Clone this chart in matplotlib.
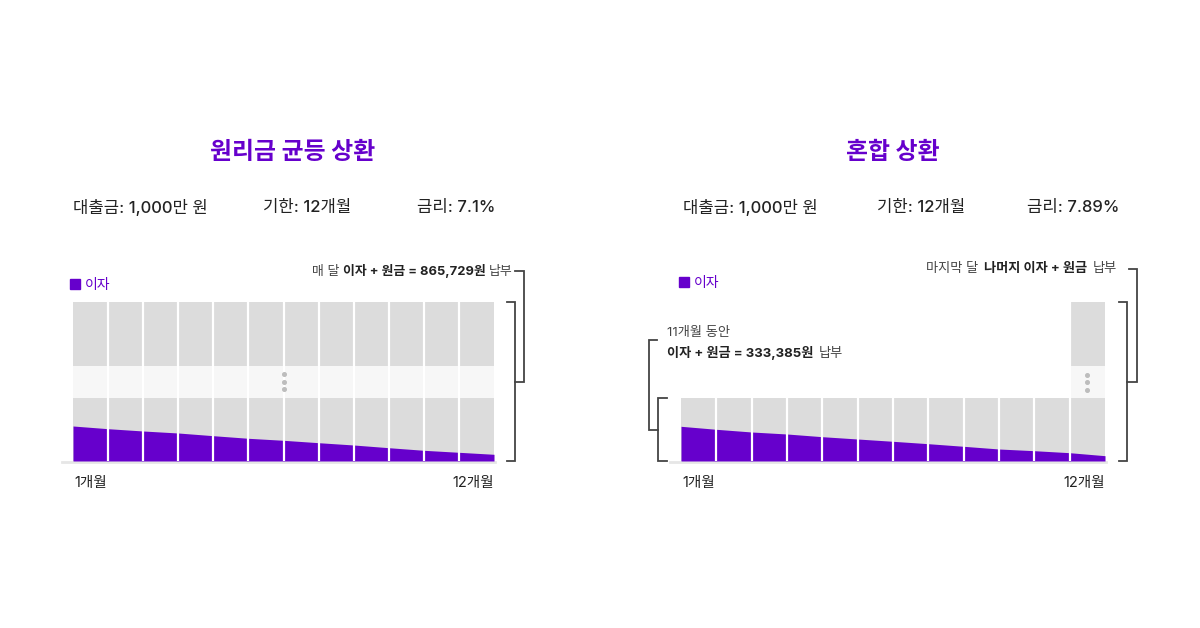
import matplotlib.pyplot as plt
from matplotlib.lines import Line2D
from matplotlib.offsetbox import AnnotationBbox, HPacker, TextArea

plt.rcParams["font.family"] = ["Inter", "Noto Sans CJK KR", "DejaVu Sans"]

PURPLE = "#6600cc"
GRAY = "#dcdcdc"
BAND = "#f7f7f7"
DARK = "#222222"
MID = "#444444"

# 데이터
months = [1, 2, 3, 4, 5, 6, 7, 8, 9, 10, 11, 12]
month_ticks = ["1개월", "12개월"]
titles = ["원리금 균등 상환", "혼합 상환"]
info_left = ["대출금: 1,000만 원", "기한: 12개월", "금리: 7.1%"]
info_right = ["대출금: 1,000만 원", "기한: 12개월", "금리: 7.89%"]

# 막대 구간 (그림 단위): 아래 블록, 생략 구간, 위 블록
equal_lower = [63, 63, 63, 63, 63, 63, 63, 63, 63, 63, 63, 63]
equal_band = [32, 32, 32, 32, 32, 32, 32, 32, 32, 32, 32, 32]
equal_upper = [64, 64, 64, 64, 64, 64, 64, 64, 64, 64, 64, 64]
mixed_lower = [63, 63, 63, 63, 63, 63, 63, 63, 63, 63, 63, 63]
mixed_band = [0, 0, 0, 0, 0, 0, 0, 0, 0, 0, 0, 32]
mixed_upper = [0, 0, 0, 0, 0, 0, 0, 0, 0, 0, 0, 64]

# 이자 높이 (월 경계 13점)
equal_interest = [35.0, 32.3, 30.0, 28.0, 25.3, 22.7, 20.7, 18.3, 16.0, 13.3, 10.7, 8.7, 6.7]
mixed_interest = [34.7, 31.7, 29.0, 27.0, 24.3, 22.0, 19.7, 17.3, 14.7, 12.0, 10.3, 8.3, 5.3]


def px_x(p):
    return p / 1200


def px_y(p):
    return 1 - p / 628


def rich(ax, pieces, xy, align, size=9.5, sep=3.5):
    boxes = [
        TextArea(s, textprops=dict(fontsize=size, color=c, fontweight=w))
        for s, c, w in pieces
    ]
    pack = HPacker(children=boxes, sep=sep, pad=0, align="baseline")
    ab = AnnotationBbox(
        pack, xy, xycoords="data", box_alignment=align,
        frameon=False, pad=0, annotation_clip=False,
    )
    ax.add_artist(ab)


def bracket(ax, xs, ys):
    ax.plot(xs, ys, color=MID, lw=1.3, clip_on=False, solid_joinstyle="miter")


def draw_bars(ax, lower, band, upper, interest):
    x = [m - 1 for m in months]
    mid = [a + b for a, b in zip(lower, band)]
    total = [a + b for a, b in zip(mid, upper)]
    ax.bar(x, lower, width=1, align="edge", color=GRAY, zorder=1)
    ax.bar(x, band, bottom=lower, width=1, align="edge", color=BAND, zorder=1)
    ax.bar(x, upper, bottom=mid, width=1, align="edge", color=GRAY, zorder=1)
    edges = list(range(len(months) + 1))
    ax.fill_between(edges, 0, interest, color=PURPLE, lw=0, zorder=2)
    seps = [max(total[i - 1], total[i]) for i in range(1, len(months))]
    ax.vlines(edges[1:-1], 0, seps, colors="white", lw=1.6, zorder=3)
    ax.plot([-0.31, 12.03], [-0.8, -0.8], color="#e6e6e6", lw=2, clip_on=False, zorder=0.5)

    ax.set_xlim(0, 12)
    ax.set_ylim(0, 159)
    for s in ax.spines.values():
        s.set_visible(False)
    ax.set_yticks([])
    ax.set_xticks([0.03, 12], month_ticks)
    ax.tick_params(axis="x", length=0, pad=11, labelsize=10.5, labelcolor=DARK)
    labels = ax.get_xticklabels()
    labels[0].set_ha("left")
    labels[1].set_ha("right")


def legend(ax, xy):
    h = [Line2D([], [], marker="s", ls="", color=PURPLE, markersize=6.5)]
    ax.legend(
        h, ["이자"], loc="center left", bbox_to_anchor=xy,
        bbox_transform=ax.transData, frameon=False, labelcolor=PURPLE,
        handlelength=0.6, handletextpad=0.35, borderpad=0, borderaxespad=0,
        prop=dict(size=10, weight="medium"),
    )


fig = plt.figure(figsize=(12, 6.28), dpi=100)
fig.patch.set_facecolor("white")

ax1 = fig.add_axes([px_x(73), px_y(461), 421 / 1200, 159 / 628])
ax2 = fig.add_axes([px_x(681), px_y(461), 424 / 1200, 159 / 628])

draw_bars(ax1, equal_lower, equal_band, equal_upper, equal_interest)
draw_bars(ax2, mixed_lower, mixed_band, mixed_upper, mixed_interest)

# 생략 점
ax1.plot([6, 6, 6], [87, 79.5, 72], "o", color="#bdbdbd", ms=2.6, zorder=4)
ax2.plot([11.5, 11.5, 11.5], [86, 79, 71], "o", color="#bdbdbd", ms=2.6, zorder=4)

legend(ax1, (-0.05, 176.5))
legend(ax2, (-0.02, 178))

# 제목, 조건
for cx, title in zip([292.5, 892.5], titles):
    fig.text(px_x(cx), px_y(153), title, ha="center", va="center",
             fontsize=17.2, fontweight="bold", color=PURPLE)
for xs, info in [([73, 263, 417], info_left), ([683, 877, 1027], info_right)]:
    for x, s in zip(xs, info):
        fig.text(px_x(x), px_y(208), s, ha="left", va="center",
                 fontsize=12, fontweight="medium", color=DARK)

# 왼쪽 차트 주석
rich(ax1, [("매 달", MID, "normal"), ("이자 + 원금 = 865,729원", DARK, "bold"),
           ("납부", MID, "normal")], (12.54, 190), (1, 0.5), size=9.3, sep=2.5)
bracket(ax1, [12.37, 12.6, 12.6, 12.37], [159, 159, 0, 0])
bracket(ax1, [12.6, 12.86, 12.86, 12.6], [79.5, 79.5, 190, 190])

# 오른쪽 차트 주석
rich(ax2, [("11개월 동안", MID, "normal")], (-0.4, 128), (0, 0.5))
rich(ax2, [("이자 + 원금 = 333,385원", DARK, "bold"), ("납부", MID, "normal")],
     (-0.4, 108), (0, 0.5), sep=4)
bracket(ax2, [-0.4, -0.65, -0.65, -0.4], [63, 63, 0, 0])
bracket(ax2, [-0.65, -0.906, -0.906, -0.68], [31.5, 31.5, 121, 121])

rich(ax2, [("마지막 달", MID, "normal"), ("나머지 이자 + 원금", DARK, "bold"),
           ("납부", MID, "normal")], (12.34, 192), (1, 0.5), sep=4)
bracket(ax2, [12.4, 12.62, 12.62, 12.4], [159, 159, 0, 0])
bracket(ax2, [12.62, 12.9, 12.9, 12.68], [79.5, 79.5, 192, 192])

fig.savefig("out.png", dpi=100, facecolor="white")
